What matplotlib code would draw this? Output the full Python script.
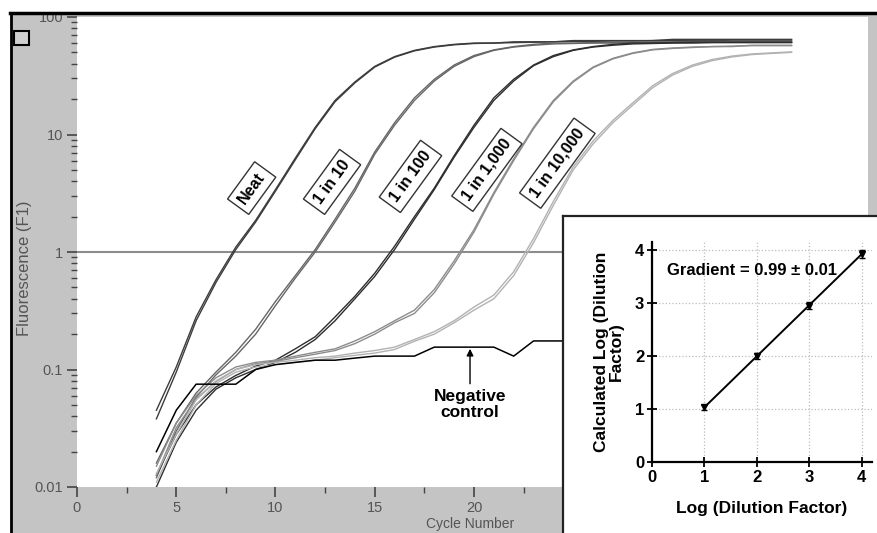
import numpy as np
import matplotlib
matplotlib.use("Agg")
import matplotlib.pyplot as plt
from matplotlib.patches import Rectangle
from matplotlib.lines import Line2D
from matplotlib.ticker import FixedLocator, NullFormatter

plt.rcParams['font.family'] = ['Liberation Sans Narrow', 'Liberation Sans', 'DejaVu Sans']

# amplification data, fluorescence (F1) at each cycle
cycles = list(range(4, 37))

neat_a = [0.045, 0.105, 0.28, 0.58, 1.1, 1.86, 3.4, 6.3, 11.5, 19.5, 28, 38, 46, 52, 56, 58.5, 60,
          60, 61.5, 61.5, 61.5, 63, 63, 63, 63, 63, 64.5, 64.5, 64.5, 64.5, 64.5, 64.5, 64.5]
neat_b = [0.038, 0.095, 0.26, 0.55, 1.05, 1.8, 3.3, 6.1, 11.2, 19, 27.5, 37.5, 45.5, 51.5, 55.5, 58, 59.5,
          60, 60.5, 61, 61.5, 62, 62, 62.5, 62.5, 63, 63, 63, 63, 63.5, 63.5, 63.5, 63.5]
d10_a = [0.016, 0.035, 0.063, 0.095, 0.14, 0.22, 0.38, 0.63, 1.05, 1.9, 3.5, 7.1, 12.6, 20.5, 29.5, 39, 47,
         52.5, 56, 58.5, 60, 60, 60.5, 61, 61, 61.5, 61.5, 62, 62, 62, 62, 62, 62]
d10_b = [0.012, 0.03, 0.058, 0.09, 0.13, 0.2, 0.35, 0.6, 1.0, 1.8, 3.3, 6.8, 12, 19.5, 28.5, 38, 46,
         52, 55.5, 57.5, 59, 59.5, 60, 60, 60.5, 60.5, 61, 61, 61, 61, 61, 61, 61]
d100_a = [0.0126, 0.028, 0.05, 0.071, 0.089, 0.107, 0.12, 0.15, 0.19, 0.28, 0.42, 0.66, 1.12, 2.0, 3.5, 6.6, 12,
          20.5, 29.5, 39, 47, 52.5, 56, 58.5, 60, 60, 60.5, 61, 61, 61, 61, 61, 61]
d100_b = [0.01, 0.024, 0.045, 0.068, 0.085, 0.1, 0.115, 0.14, 0.18, 0.26, 0.4, 0.62, 1.05, 1.9, 3.4, 6.4, 11.5,
          19.5, 28.5, 38.5, 46, 52, 55.5, 57.5, 59, 59.5, 60, 60, 60.5, 60.5, 60.5, 60.5, 60.5]
d1000_a = [0.0126, 0.032, 0.056, 0.079, 0.10, 0.112, 0.117, 0.126, 0.135, 0.145, 0.166, 0.20, 0.25, 0.30, 0.45,
           0.79, 1.48, 3.1, 6.0, 11.2, 19, 28, 37, 44, 49, 52.5, 54, 55, 56, 56, 57.5, 57.5, 57.5]
d1000_b = [0.015, 0.035, 0.06, 0.085, 0.105, 0.115, 0.12, 0.13, 0.14, 0.15, 0.175, 0.21, 0.26, 0.32, 0.48,
           0.84, 1.55, 3.2, 6.2, 11.5, 19.5, 28.5, 37.5, 44.5, 49.5, 53, 54.5, 55.5, 56, 56.5, 57, 57, 57]
d10000_a = [0.011, 0.025, 0.05, 0.076, 0.095, 0.105, 0.11, 0.115, 0.12, 0.126, 0.132, 0.138, 0.148, 0.174, 0.2,
            0.25, 0.32, 0.4, 0.63, 1.2, 2.5, 5.0, 8.3, 12.6, 17.8, 25, 32, 38, 42.5, 45.7, 47.9, 49, 50]
d10000_b = [0.013, 0.028, 0.055, 0.08, 0.1, 0.11, 0.115, 0.12, 0.126, 0.13, 0.138, 0.145, 0.155, 0.18, 0.21,
            0.26, 0.34, 0.43, 0.68, 1.3, 2.7, 5.3, 8.8, 13.2, 18.6, 26, 33, 39, 43.5, 46.5, 48.5, 49.5, 50.5]
neg_control = [0.02, 0.045, 0.075, 0.075, 0.075, 0.1, 0.11, 0.115, 0.12, 0.12, 0.125, 0.13, 0.13, 0.13, 0.155,
               0.155, 0.155, 0.155, 0.13, 0.175, 0.175, 0.175, 0.175, 0.175, 0.175, 0.175, 0.175, 0.175, 0.175,
               0.175, 0.175, 0.175, 0.175]

curve_names = ["Neat", "1 in 10", "1 in 100", "1 in 1,000", "1 in 10,000"]
curve_sets = [[neat_a, neat_b], [d10_a, d10_b], [d100_a, d100_b], [d1000_a, d1000_b], [d10000_a, d10000_b]]
curve_colors = ["#3c3c3c", "#666666", "#2e2e2e", "#8c8c8c", "#b2b2b2"]
label_cycle = [8.8, 12.85, 16.8, 20.65, 24.2]
label_fluor = [3.5, 3.95, 4.4, 5.0, 5.7]
threshold = 1.0

x_ticks = [0, 5, 10, 15, 20, 25, 30, 35]
x_ticklabels = ["0", "5", "10", "15", "20", "", "", ""]
y_ticks = [0.01, 0.1, 1, 10, 100]
y_ticklabels = ["0.01", "0.1", "1", "10", "100"]

# inset: calculated vs actual log dilution
log_dilution = [1, 2, 3, 4]
calc_log = [1.03, 2.0, 2.95, 3.92]
calc_err = [0.05, 0.05, 0.07, 0.08]

W, H = 878, 533
fig = plt.figure(figsize=(W / 100, H / 100), dpi=100)
fig.patch.set_facecolor("#c4c4c4")

# white margins and black frame lines of the scan
fig.patches.append(Rectangle((0, 1 - 12 / H), 1, 12 / H, transform=fig.transFigure, color="white", zorder=0))
fig.patches.append(Rectangle((0, 0), 10 / W, 1, transform=fig.transFigure, color="white", zorder=0))
fig.lines.append(Line2D([10 / W, 1], [1 - 13 / H, 1 - 13 / H], transform=fig.transFigure, color="black", lw=2.5))
fig.lines.append(Line2D([11 / W, 11 / W], [0, 1 - 13 / H], transform=fig.transFigure, color="black", lw=2))
fig.patches.append(Rectangle((14 / W, 1 - 45 / H), 15 / W, 14 / H, transform=fig.transFigure,
                             facecolor="#d0d0d0", edgecolor="black", lw=1.5))

ax = fig.add_axes([77 / W, 1 - 487 / H, (868 - 77) / W, (487 - 17) / H])
ax.set_facecolor("white")
ax.set_yscale("log")
ax.set_xlim(0, 39.85)
ax.set_ylim(0.01, 100)

for reps, col in zip(curve_sets, curve_colors):
    for rep in reps:
        ax.plot(cycles, rep, color=col, lw=1.0)
ax.plot(cycles, neg_control, color="black", lw=1.1)
ax.axhline(threshold, color="#8c8c8c", lw=1.5, zorder=1)

for name, cx, cy in zip(curve_names, label_cycle, label_fluor):
    ax.text(cx, cy, name, rotation=54, ha="center", va="center", fontsize=11.5, fontweight="bold",
            family=["Liberation Sans", "DejaVu Sans"],
            bbox=dict(boxstyle="square,pad=0.35", fc="white", ec="#333333", lw=1.0))

ax.annotate("Negative\ncontrol", xy=(19.8, 0.15), xytext=(19.8, 0.05), ha="center", va="center",
            fontsize=12.5, fontweight="bold", family=["Liberation Sans", "DejaVu Sans"], linespacing=1.1,
            arrowprops=dict(arrowstyle="-|>", color="black", lw=1.0, mutation_scale=10, shrinkA=2, shrinkB=0))

for s in ax.spines.values():
    s.set_visible(False)
ax.xaxis.set_major_locator(FixedLocator(x_ticks))
ax.xaxis.set_minor_locator(FixedLocator([t + 2.5 for t in x_ticks]))
ax.set_xticklabels(x_ticklabels)
ax.yaxis.set_minor_formatter(NullFormatter())
ax.set_yticks(y_ticks)
ax.set_yticklabels(y_ticklabels)
ax.tick_params(axis="both", which="major", length=7, width=1.2, color="#444444", labelcolor="#555555",
               labelsize=10.5, pad=3)
ax.tick_params(axis="both", which="minor", length=4, width=1.0, color="#444444")

fig.text(25 / W, 1 - 268 / H, "Fluorescence (F1)", rotation=90, ha="center", va="center",
         fontsize=12, color="#555555")
fig.text(470 / W, 1 - 524 / H, "Cycle Number", ha="center", va="center", fontsize=10, color="#555555")

# inset panel
box = fig.add_axes([563 / W, -0.01, (W + 5 - 563) / W, (533 - 216) / H + 0.01])
box.set_facecolor("white")
box.set_xticks([])
box.set_yticks([])
for s in box.spines.values():
    s.set_color("#222222")
    s.set_linewidth(1.6)

ins = fig.add_axes([652 / W, 1 - 462 / H, 220 / W, 220 / H])
ins.set_facecolor("none")
ins.set_xlim(0, 4.2)
ins.set_ylim(0, 4.15)
ins.spines["top"].set_visible(False)
ins.spines["right"].set_visible(False)
ins.spines["left"].set_linewidth(1.6)
ins.spines["bottom"].set_linewidth(1.6)
ins.set_xticks([0, 1, 2, 3, 4])
ins.set_yticks([0, 1, 2, 3, 4])
ins.tick_params(direction="inout", length=7, width=1.3, labelsize=12, pad=2)
for lab in ins.get_xticklabels() + ins.get_yticklabels():
    lab.set_fontweight("bold")
    lab.set_family(["Liberation Sans", "DejaVu Sans"])
ins.grid(True, ls=":", color="#bdbdbd", lw=0.9)
ins.set_axisbelow(True)

slope, icpt = np.polyfit(log_dilution, calc_log, 1)
xs = np.array([log_dilution[0], log_dilution[-1]])
ins.plot(xs, slope * xs + icpt, color="black", lw=1.4)
ins.errorbar(log_dilution, calc_log, yerr=calc_err, fmt="v", color="black", ms=4, capsize=2, lw=1)
ins.text(0.28, 3.62, "Gradient = 0.99 \u00b1 0.01", fontsize=12, fontweight="bold",
         family=["Liberation Sans", "DejaVu Sans"], ha="left", va="center")
ins.set_xlabel("Log (Dilution Factor)", fontsize=12.5, fontweight="bold",
               family=["Liberation Sans", "DejaVu Sans"], labelpad=12)
ins.set_ylabel("Calculated Log (Dilution\nFactor)", fontsize=12.5, fontweight="bold",
               family=["Liberation Sans", "DejaVu Sans"], labelpad=8, linespacing=1.0)

fig.savefig("out.png", dpi=100, facecolor=fig.get_facecolor())
